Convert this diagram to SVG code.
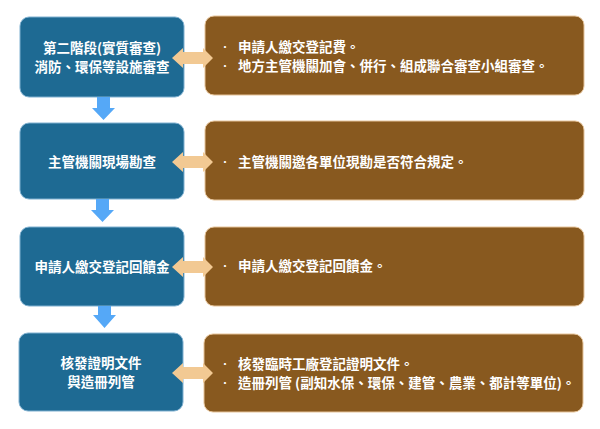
<svg xmlns="http://www.w3.org/2000/svg" width="600" height="429" viewBox="0 0 600 429">
<style>
.b{fill:#1E6A93;stroke:#7FB0D0;stroke-width:1}
.r{fill:#88591F;stroke:#E6C49A;stroke-width:1}
.t{font-family:"Noto Sans CJK TC","Noto Sans CJK SC",sans-serif;font-size:13.5px;font-weight:bold;fill:#FFFFFF}
.u{font-family:"Noto Sans CJK TC","Noto Sans CJK SC",sans-serif;font-size:10px;fill:#FFFFFF}
.c{text-anchor:middle}
.dn{fill:#55A8F7}
.dbl{fill:#F2C993}
</style>
<rect width="600" height="429" fill="#FFFFFF"/>
<g id="step1">
<rect class="b" x="20" y="17" width="164" height="80" rx="9"/>
<text class="t c" x="102" y="53">第二階段(實質審查)</text>
<text class="t c" x="102" y="72">消防、環保等設施審查</text>
</g>
<g id="note1">
<rect class="r" x="205" y="16" width="379" height="79" rx="9"/>
<text class="u" x="220" y="51">•</text>
<text class="t" x="238" y="52">申請人繳交登記費。</text>
<text class="u" x="220" y="70">•</text>
<text class="t" x="238" y="71">地方主管機關加會、併行、組成聯合審查小組審查。</text>
</g>
<g id="step2">
<rect class="b" x="20" y="123" width="164" height="76" rx="9"/>
<text class="t c" x="102" y="167">主管機關現場勘查</text>
</g>
<g id="note2">
<rect class="r" x="205" y="121" width="379" height="79" rx="9"/>
<text class="u" x="220" y="166">•</text>
<text class="t" x="238" y="167">主管機關邀各單位現勘是否符合規定。</text>
</g>
<g id="step3">
<rect class="b" x="20" y="227" width="164" height="79" rx="9"/>
<text class="t c" x="102" y="272">申請人繳交登記回饋金</text>
</g>
<g id="note3">
<rect class="r" x="205" y="227" width="379" height="79" rx="9"/>
<text class="u" x="220" y="270">•</text>
<text class="t" x="238" y="271">申請人繳交登記回饋金。</text>
</g>
<g id="step4">
<rect class="b" x="19" y="333" width="164" height="78" rx="9"/>
<text class="t c" x="101" y="368">核發證明文件</text>
<text class="t c" x="101" y="387">與造冊列管</text>
</g>
<g id="note4">
<rect class="r" x="204" y="334" width="379" height="78" rx="9"/>
<text class="u" x="220" y="368">•</text>
<text class="t" x="238" y="369">核發臨時工廠登記證明文件。</text>
<text class="u" x="220" y="387">•</text>
<text class="t" x="238" y="388">造冊列管 (副知水保、環保、建管、農業、都計等單位)。</text>
</g>
<g id="connectors">
<polygon class="dn" points="97,97 110,97 110,108 115,108 103.5,120 92,108 97,108"/>
<polygon class="dn" points="96,199 109,199 109,210 114,210 102.5,222 91,210 96,210"/>
<polygon class="dn" points="98,306 111,306 111,315 116,315 104.5,328 93,315 98,315"/>
<polygon class="dbl" points="172,58 183,48 183,52 203,52 203,48 213,58 203,68 203,64 183,64 183,68"/>
<polygon class="dbl" points="172,162 183,152 183,156 203,156 203,152 213,162 203,172 203,168 183,168 183,172"/>
<polygon class="dbl" points="172,267 183,257 183,261 203,261 203,257 213,267 203,277 203,273 183,273 183,277"/>
<polygon class="dbl" points="172,373 183,363 183,367 203,367 203,363 213,373 203,383 203,379 183,379 183,383"/>
</g>
</svg>
